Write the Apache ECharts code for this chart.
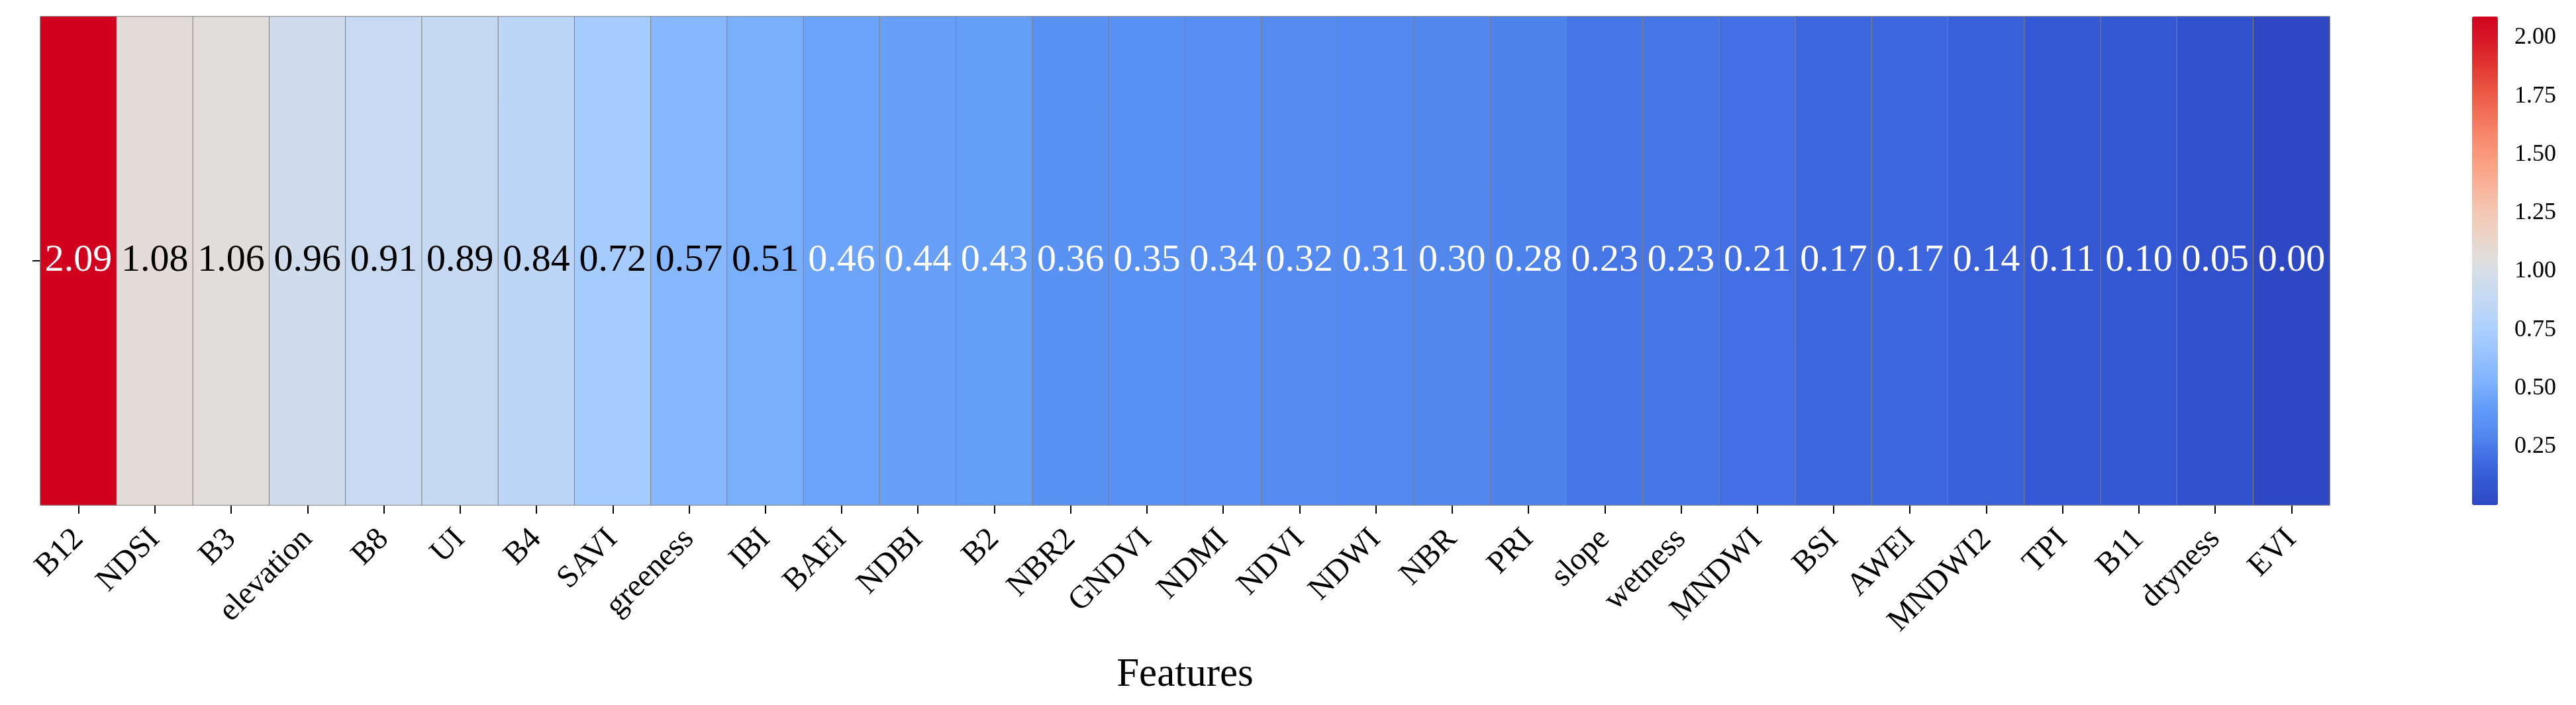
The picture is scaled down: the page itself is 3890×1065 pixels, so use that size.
<!DOCTYPE html>
<html>
<head>
<meta charset="utf-8">
<script src="https://cdn.jsdelivr.net/npm/echarts@6/dist/echarts.min.js"></script>
<style>
html,body{margin:0;padding:0;background:#fff;}
#chart{width:3890px;height:1065px;}
</style>
</head>
<body>
<div id="chart"></div>
<script>
const categories = ['B12','NDSI','B3','elevation','B8','UI','B4','SAVI','greeness','IBI','BAEI','NDBI','B2','NBR2','GNDVI','NDMI','NDVI','NDWI','NBR','PRI','slope','wetness','MNDWI','BSI','AWEI','MNDWI2','TPI','B11','dryness','EVI'];
const values = [2.09,1.08,1.06,0.96,0.91,0.89,0.84,0.72,0.57,0.51,0.46,0.44,0.43,0.36,0.35,0.34,0.32,0.31,0.30,0.28,0.23,0.23,0.21,0.17,0.17,0.14,0.11,0.10,0.05,0.00];
const colorbarTicks = [0.25,0.50,0.75,1.00,1.25,1.50,1.75,2.00];
const xAxisTitle = 'Features';
const vMin = 0.00, vMax = 2.09;

// coolwarm-like palette (as seen in the reference), evenly spaced from min to max
const palette = [
  [46,72,196],[52,88,212],[66,112,228],[84,138,240],[98,155,248],
  [125,178,255],[148,192,255],[168,206,255],[188,214,248],[205,220,238],
  [222,222,222],[236,212,200],[244,200,180],[248,180,155],[250,160,130],
  [248,138,110],[242,112,88],[234,85,66],[225,55,50],[215,25,40],[208,2,30]
];
const hex = c => '#' + c.map(v => Math.round(v).toString(16).padStart(2,'0')).join('');
function colorAt(v){
  let t = (v - vMin)/(vMax - vMin); t = Math.max(0, Math.min(1, t));
  const p = t*(palette.length-1), i = Math.min(Math.floor(p), palette.length-2), f = p - i;
  return palette[i].map((c,k) => c + (palette[i+1][k]-c)*f);
}
function lum(c){
  const l = c.map(x => { x/=255; return x <= 0.03928 ? x/12.92 : Math.pow((x+0.055)/1.055, 2.4); });
  return 0.2126*l[0] + 0.7152*l[1] + 0.0722*l[2];
}

const FONT = "'Liberation Serif','Times New Roman',serif";
const heatData = values.map((v,i) => [i, 0, v]);

const chart = echarts.init(document.getElementById('chart'), null, {renderer:'canvas'});
chart.setOption({
  backgroundColor:'#ffffff',
  animation:false,
  grid:[
    {left:61, top:25, width:3457, height:738},
    {left:3733, top:25, width:39, height:738}
  ],
  xAxis:[
    {
      type:'category', gridIndex:0, data:categories,
      axisLine:{show:false},
      axisTick:{show:true, alignWithLabel:true, length:13, lineStyle:{color:'#000', width:2}},
      axisLabel:{interval:0, rotate:45, margin:44, fontSize:48, fontFamily:FONT, color:'#000'},
      splitLine:{show:false},
      name:xAxisTitle, nameLocation:'middle', nameGap:226,
      nameTextStyle:{fontSize:61, fontFamily:FONT, color:'#000'}
    },
    {type:'value', gridIndex:1, show:false, min:0, max:1}
  ],
  yAxis:[
    {
      type:'category', gridIndex:0, data:[''],
      axisLine:{show:false},
      axisTick:{show:true, alignWithLabel:true, length:12, lineStyle:{color:'#000', width:2}},
      axisLabel:{show:false},
      splitLine:{show:false}
    },
    {
      type:'value', gridIndex:1, min:vMin, max:vMax, position:'right',
      axisLine:{show:false},
      splitLine:{show:false},
      axisTick:{show:true, customValues:colorbarTicks, length:15, lineStyle:{color:'#000', width:2}},
      axisLabel:{show:true, customValues:colorbarTicks, margin:25, fontSize:36, fontFamily:FONT, color:'#000',
        formatter: v => Number(v).toFixed(2)}
    }
  ],
  visualMap:{
    type:'continuous', seriesIndex:0, min:vMin, max:vMax,
    orient:'vertical', left:3733, top:25, itemWidth:39, itemHeight:738, padding:0,
    calculable:false, hoverLink:false, text:null, showLabel:false,
    inRange:{color: palette.map(hex)}
  },
  series:[{
    type:'heatmap', xAxisIndex:0, yAxisIndex:0, data:heatData,
    itemStyle:{borderColor:'#808080', borderWidth:1},
    emphasis:{disabled:true},
    label:{
      show:true,
      formatter: p => {
        const v = p.value[2];
        const key = lum(colorAt(v)) > 0.408 ? 'd' : 'w';
        return '{' + key + '|' + v.toFixed(2) + '}';
      },
      rich:{
        d:{color:'#000', fontSize:58, fontFamily:FONT},
        w:{color:'#fff', fontSize:58, fontFamily:FONT}
      }
    }
  }]
});
</script>
</body>
</html>
